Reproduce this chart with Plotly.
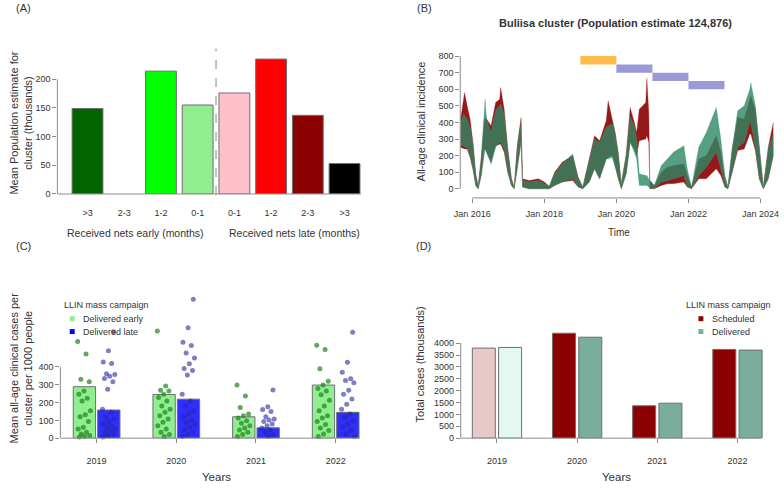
import plotly.graph_objects as go

W, H = 784, 488
def P(px): return px / W
def Q(py): return 1 - py / H

FONT = "Liberation Sans, Arial, sans-serif"
TXT = "#333333"
AX = "#8c8c8c"
OUT = "#6e6e6e"

# ---------------- Panel A data ----------------
a_labels = [">3", "2-3", "1-2", "0-1", "0-1", "1-2", "2-3", ">3"]
a_values = [149, 0, 214, 155, 176, 235, 137, 53]
a_counts = [14, 0, 3, 17, 5, 6, 54, 1]
a_colors = ["#006400", "#006400", "#00FF00", "#90EE90", "#FFC0CB", "#FF0000", "#8B0000", "#000000"]
a_yticks = [0, 50, 100, 150, 200]

# ---------------- Panel B data ----------------
b_dates = ["2015-09-05", "2015-10-05", "2015-10-15", "2015-11-10", "2015-12-10", "2016-01-10",
           "2016-02-05", "2016-03-01", "2016-04-01", "2016-05-01", "2016-05-10", "2016-05-25",
           "2016-07-10", "2016-08-25", "2016-10-05", "2016-10-15", "2016-11-20", "2016-12-25",
           "2017-02-01", "2017-03-01", "2017-04-01", "2017-05-10", "2017-05-25", "2017-08-01",
           "2017-11-01", "2018-01-01", "2018-02-20", "2018-04-15", "2018-07-01", "2018-10-15",
           "2018-12-10", "2019-01-25", "2019-04-01", "2019-05-25", "2019-07-15", "2019-09-20",
           "2019-10-10", "2019-11-20", "2019-12-20", "2020-01-20", "2020-02-20", "2020-04-10",
           "2020-05-20", "2020-07-01", "2020-07-25", "2020-08-20", "2020-10-25", "2020-11-05",
           "2020-11-25", "2020-12-05", "2021-01-20", "2021-04-01", "2021-06-01", "2021-08-01",
           "2021-11-15", "2021-12-20", "2022-02-01", "2022-04-15", "2022-07-01", "2022-10-10",
           "2022-11-25", "2023-01-05", "2023-02-05", "2023-03-20", "2023-05-15", "2023-07-20",
           "2023-09-15", "2023-09-25", "2023-11-10", "2023-12-20", "2024-01-30", "2024-03-20",
           "2024-05-10"]
green_lo = [260, 260, 250, 250, 200, 120, 20, 0, 80, 230, 240, 220, 150, 250, 280, 280, 240, 110,
            20, 0, 120, 280, 10, 0, 0, 0, 0, 20, 40, 60, 10, 0, 40, 120, 60, 180, 180, 190, 130,
            60, 0, 90, 280, 220, 180, 20, 20, 20, 10, 5, 0, 40, 50, 60, 80, 20, 0, 80, 130, 220,
            120, 10, 0, 100, 250, 280, 400, 400, 250, 60, 0, 60, 200]
green_hi = [400, 450, 440, 420, 370, 260, 90, 15, 180, 420, 540, 420, 340, 470, 500, 510, 450, 240,
            60, 10, 250, 390, 50, 40, 50, 30, 15, 90, 150, 210, 60, 10, 180, 300, 280, 370, 380, 390,
            330, 200, 30, 200, 430, 380, 300, 90, 80, 80, 60, 50, 20, 140, 180, 220, 260, 120, 10,
            250, 340, 490, 300, 80, 10, 240, 470, 500, 600, 640, 500, 240, 10, 240, 330]
red_lo = [250, 240, 240, 240, 190, 110, 20, 0, 80, 240, 240, 220, 160, 260, 270, 270, 220, 100,
          20, 0, 120, 290, 10, 0, 0, 0, 0, 20, 40, 50, 10, 0, 40, 120, 60, 180, 190, 200, 140,
          60, 0, 90, 280, 240, 200, 290, 300, 320, 280, 0, 0, 20, 30, 30, 40, 10, 0, 60, 60, 120,
          80, 10, 0, 100, 230, 240, 330, 330, 230, 60, 0, 60, 200]
red_hi = [420, 540, 580, 500, 420, 270, 90, 15, 190, 410, 430, 420, 380, 520, 540, 610, 480, 250,
          60, 10, 260, 430, 60, 50, 60, 40, 15, 100, 160, 200, 70, 10, 190, 320, 290, 410, 530, 420,
          340, 220, 30, 210, 490, 400, 340, 480, 520, 665, 460, 50, 20, 100, 130, 140, 150, 80, 10,
          180, 200, 320, 220, 70, 10, 240, 430, 420, 540, 560, 480, 240, 10, 250, 400]
campaign_start = ["2019-01-01", "2020-01-01", "2021-01-01", "2022-01-01"]
campaign_end = ["2020-01-01", "2021-01-01", "2022-01-01", "2023-01-01"]
campaign_top = [800, 750, 700, 650]
campaign_bottom = [750, 700, 650, 600]
campaign_colors = ["#FFBA4A", "#9A9AD8", "#9A9AD8", "#9A9AD8"]
b_yticks = [0, 100, 200, 300, 400, 500, 600, 700, 800]
b_xticks = ["2016-01-01", "2018-01-01", "2020-01-01", "2022-01-01", "2024-01-01"]
b_xticktext = ["Jan 2016", "Jan 2018", "Jan 2020", "Jan 2022", "Jan 2024"]

# ---------------- Panel C data ----------------
years = ["2019", "2020", "2021", "2022"]
c_early_mean = [289, 245, 120, 298]
c_late_mean = [158, 219, 58, 145]
c_early_pts = [
    [543, 472, 330, 317, 265, 246, 224, 209, 154, 131, 120, 94, 61, 52, 33, 24, 15, 9, 6],
    [602, 293, 269, 265, 246, 228, 209, 181, 163, 145, 126, 108, 89, 70, 52, 33, 20, 9],
    [298, 237, 172, 135, 126, 113, 98, 84, 70, 57, 46, 33, 20, 9],
    [521, 497, 389, 320, 298, 279, 265, 243, 213, 181, 154, 126, 113, 94, 76, 57, 43, 24, 9],
]
c_late_pts = [
    [598, 491, 428, 419, 361, 358, 348, 335, 317, 274, 163, 145, 117, 108, 94, 80, 70, 61, 52, 43, 33, 24, 15, 6],
    [780, 620, 539, 520, 478, 450, 417, 391, 380, 354, 246, 209, 181, 154, 135, 120, 102, 89, 76, 61, 46, 33, 20, 9],
    [270, 176, 161, 150, 120, 108, 102, 94, 80, 70, 57, 46, 33, 20, 9],
    [594, 426, 370, 333, 324, 311, 269, 246, 220, 191, 163, 135, 117, 98, 80, 61, 43, 24, 9],
]
c_yticks = [0, 100, 200, 300, 400]

# ---------------- Panel D data ----------------
d_sched = [3792, 4417, 1363, 3736]
d_deliv = [3819, 4250, 1472, 3708]
d_sched_colors = ["#E8C8C8", "#8B0000", "#8B0000", "#8B0000"]
d_deliv_colors = ["#E2F8F0", "#7AAE9A", "#7AAE9A", "#7AAE9A"]
d_yticks = [0, 500, 1000, 1500, 2000, 2500, 3000, 3500, 4000]

fig = go.Figure()

# ---- A bars ----
fig.add_trace(go.Bar(
    x=list(range(len(a_values))), y=a_values, width=0.84,
    marker=dict(color=a_colors,
                line=dict(color=[OUT if v > 0 else "rgba(0,0,0,0)" for v in a_values], width=1)),
    xaxis="x", yaxis="y", showlegend=False, hoverinfo="skip"))

# ---- B series ----
fig.add_trace(go.Scatter(x=b_dates, y=red_lo, mode="lines", line=dict(width=0.6, color="rgba(160,40,40,0.55)"),
                         xaxis="x2", yaxis="y2", showlegend=False, hoverinfo="skip"))
fig.add_trace(go.Scatter(x=b_dates, y=red_hi, mode="lines", line=dict(width=0.6, color="rgba(160,40,40,0.55)"),
                         fill="tonexty", fillcolor="rgba(139,0,0,0.9)",
                         xaxis="x2", yaxis="y2", showlegend=False, hoverinfo="skip"))
fig.add_trace(go.Scatter(x=b_dates, y=green_lo, mode="lines", line=dict(width=0.6, color="rgba(80,160,125,0.55)"),
                         xaxis="x2", yaxis="y2", showlegend=False, hoverinfo="skip"))
fig.add_trace(go.Scatter(x=b_dates, y=green_hi, mode="lines", line=dict(width=0.6, color="rgba(80,160,125,0.55)"),
                         fill="tonexty", fillcolor="rgba(45,135,100,0.8)",
                         xaxis="x2", yaxis="y2", showlegend=False, hoverinfo="skip"))

# ---- C bars + points ----
off_c = 0.153
fig.add_trace(go.Bar(x=[i - off_c for i in range(4)], y=c_early_mean, width=0.28,
                     marker=dict(color="#90EE90", line=dict(color=OUT, width=1)),
                     xaxis="x3", yaxis="y3", showlegend=False, hoverinfo="skip"))
fig.add_trace(go.Bar(x=[i + off_c for i in range(4)], y=c_late_mean, width=0.28,
                     marker=dict(color="#2E2EFF", line=dict(color=OUT, width=1)),
                     xaxis="x3", yaxis="y3", showlegend=False, hoverinfo="skip"))

def jit(k):
    return ((k * 0.618034) % 1 - 0.5) * 0.17

for i, pts in enumerate(c_early_pts):
    fig.add_trace(go.Scatter(x=[i - off_c + jit(k) for k in range(len(pts))], y=pts, mode="markers",
                             marker=dict(size=5, color="rgba(30,130,30,0.7)"), cliponaxis=False,
                             xaxis="x3", yaxis="y3", showlegend=False, hoverinfo="skip"))
for i, pts in enumerate(c_late_pts):
    fig.add_trace(go.Scatter(x=[i + off_c + jit(k + 3) for k in range(len(pts))], y=pts, mode="markers",
                             marker=dict(size=5, color="rgba(40,40,160,0.6)"), cliponaxis=False,
                             xaxis="x3", yaxis="y3", showlegend=False, hoverinfo="skip"))

# ---- D bars ----
off_d = 0.164
fig.add_trace(go.Bar(x=[i - off_d for i in range(4)], y=d_sched, width=0.287,
                     marker=dict(color=d_sched_colors, line=dict(color=OUT, width=1)),
                     xaxis="x4", yaxis="y4", showlegend=False, hoverinfo="skip"))
fig.add_trace(go.Bar(x=[i + off_d for i in range(4)], y=d_deliv, width=0.287,
                     marker=dict(color=d_deliv_colors, line=dict(color=OUT, width=1)),
                     xaxis="x4", yaxis="y4", showlegend=False, hoverinfo="skip"))

tickfont = dict(family=FONT, size=9, color=TXT)
common_x = dict(showgrid=False, zeroline=False, showline=False, tickfont=tickfont, fixedrange=True)
common_y = dict(showgrid=False, zeroline=False, showline=False, tickfont=tickfont, fixedrange=True,
                ticks="outside", ticklen=4, tickcolor=AX, tickwidth=1)

shapes = []
annotations = []

# Campaign rectangles (B)
for s, e, t, b, c in zip(campaign_start, campaign_end, campaign_top, campaign_bottom, campaign_colors):
    shapes.append(dict(type="rect", xref="x2", yref="y2", x0=s, x1=e, y0=b, y1=t,
                       fillcolor=c, line=dict(width=0), layer="above"))

# Axis lines
line_style = dict(color=AX, width=1)
shapes += [
    # A
    dict(type="line", xref="x domain", yref="y", x0=0, x1=0, y0=0, y1=200, line=line_style),
    dict(type="line", xref="x", yref="y domain", x0=-0.82, x1=7.44, y0=0, y1=0, line=line_style),
    dict(type="line", xref="x", yref="paper", x0=3.5, x1=3.5, y0=Q(197), y1=Q(49),
         line=dict(color="#999999", width=1.2, dash="dash")),
    # B
    dict(type="line", xref="x2 domain", yref="y2", x0=0, x1=0, y0=0, y1=800, line=line_style),
    dict(type="line", xref="x2", yref="y2 domain", x0="2016-01-01", x1="2024-01-01", y0=0, y1=0, line=line_style),
    # C
    dict(type="line", xref="x3 domain", yref="y3", x0=0, x1=0, y0=0, y1=400, line=line_style),
    dict(type="line", xref="x3", yref="y3 domain", x0=-0.455, x1=3.30, y0=0, y1=0, line=line_style),
    # D
    dict(type="line", xref="x4 domain", yref="y4", x0=0, x1=0, y0=0, y1=4000, line=line_style),
    dict(type="line", xref="x4", yref="y4 domain", x0=-0.452, x1=3.30, y0=0, y1=0, line=line_style),
]

def ann(x, y, text, size=11, xanchor="center", yanchor="middle", angle=0, bold=False, xref="paper", yref="paper"):
    if bold:
        text = "<b>" + text + "</b>"
    annotations.append(dict(x=x, y=y, xref=xref, yref=yref, text=text, showarrow=False,
                            xanchor=xanchor, yanchor=yanchor, textangle=angle,
                            font=dict(family=FONT, size=size, color=TXT)))

# Panel labels
ann(P(18), Q(8), "(A)", 11)
ann(P(423), Q(8), "(B)", 11)
ann(P(18), Q(249), "(C)", 11)
ann(P(422), Q(249), "(D)", 11)

# A texts
for i, c in enumerate(a_counts):
    ann(i, 243, str(c), 10.5, xref="x", yref="y")
ann(P(131), Q(235), "Received nets early (months)", 10.5)
ann(P(292), Q(235), "Received nets late (months)", 10.5)
ann(P(15), Q(124), "Mean Population estimate for<br>cluster (thousands)", 11, angle=-90)

# B texts
ann(P(617), Q(23), "Buliisa cluster (Population estimate 124,876)", 11, bold=True)
ann(P(420), Q(122.5), "All-age clinical incidence", 11, angle=-90)
ann(P(620), Q(235), "Time", 10)

# C texts
ann(P(15), Q(371.5), "Mean all-age clinical cases per<br>cluster per 1000 people", 11, angle=-90)
ann(P(213), Q(481.5), "Years", 11.5)
ann(P(57), Q(308), "LLIN mass campaign", 9, xanchor="left")
ann(P(76), Q(322), "Delivered early", 9, xanchor="left")
ann(P(76), Q(335), "Delivered late", 9, xanchor="left")
shapes.append(dict(type="rect", xref="paper", yref="paper", x0=P(64.5), x1=P(69.5), y0=Q(324.5), y1=Q(319.5),
                   fillcolor="#90EE90", line=dict(width=0)))
shapes.append(dict(type="rect", xref="paper", yref="paper", x0=P(64.5), x1=P(69.5), y0=Q(337.5), y1=Q(332.5),
                   fillcolor="#0000FF", line=dict(width=0)))

# D texts
ann(P(419), Q(368), "Total cases (thousands)", 11, angle=-90)
ann(P(617.7), Q(481.5), "Years", 11.5)
ann(P(686), Q(308), "LLIN mass campaign", 9, xanchor="left")
ann(P(712.5), Q(322), "Scheduled", 9, xanchor="left")
ann(P(712.5), Q(335), "Delivered", 9, xanchor="left")
shapes.append(dict(type="rect", xref="paper", yref="paper", x0=P(700.5), x1=P(705.5), y0=Q(324.5), y1=Q(319.5),
                   fillcolor="#8B0000", line=dict(width=0)))
shapes.append(dict(type="rect", xref="paper", yref="paper", x0=P(700.5), x1=P(705.5), y0=Q(337.5), y1=Q(332.5),
                   fillcolor="#7AAE9A", line=dict(width=0)))

fig.update_layout(
    width=W, height=H, margin=dict(l=0, r=0, t=0, b=0),
    paper_bgcolor="white", plot_bgcolor="white", barmode="overlay",
    font=dict(family=FONT, color=TXT),
    xaxis=dict(common_x, domain=[P(52), P(375.9)], range=[-0.82, 7.9], anchor="y",
               tickvals=list(range(len(a_labels))), ticktext=a_labels, ticks="",
               ticklabelstandoff=12),
    yaxis=dict(common_y, domain=[Q(196), Q(56.8)], range=[0, 240], anchor="x", tickvals=a_yticks),
    xaxis2=dict(common_x, type="date", domain=[P(459.5), P(778.4)], range=["2015-09-01", "2024-06-01"],
                anchor="y2", tickvals=b_xticks, ticktext=b_xticktext, ticks="outside", ticklen=4,
                tickcolor=AX, ticklabelstandoff=3),
    yaxis2=dict(common_y, domain=[Q(200), Q(50)], range=[-55.5, 840], anchor="x2", tickvals=b_yticks),
    xaxis3=dict(common_x, domain=[P(55), P(370)], range=[-0.455, 3.453], anchor="y3",
                tickvals=list(range(4)), ticktext=years, ticks="outside", ticklen=4, tickcolor=AX,
                ticklabelstandoff=10),
    yaxis3=dict(common_y, domain=[Q(442.7), Q(298.7)], range=[0, 800], anchor="x3", tickvals=c_yticks),
    xaxis4=dict(common_x, domain=[P(460), P(780)], range=[-0.452, 3.494], anchor="y4",
                tickvals=list(range(4)), ticktext=years, ticks="outside", ticklen=4, tickcolor=AX,
                ticklabelstandoff=10),
    yaxis4=dict(common_y, domain=[Q(442.7), Q(301)], range=[0, 5904], anchor="x4", tickvals=d_yticks),
    shapes=shapes, annotations=annotations,
)

fig.write_html("out.html", config={"displayModeBar": False},
               post_script="document.body.style.margin='0';document.body.style.overflow='hidden';")
